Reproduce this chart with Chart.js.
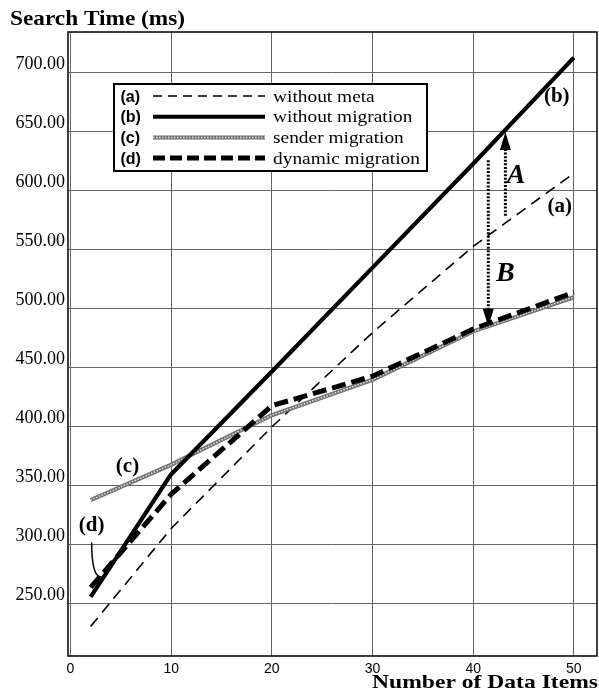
<!DOCTYPE html>
<html>
<head>
<meta charset="utf-8">
<script src="https://cdn.jsdelivr.net/npm/chart.js@4.4.1/dist/chart.umd.min.js"></script>
<style>
html, body { margin: 0; padding: 0; background: #fff; }
#wrap { width: 599px; height: 695px; }
</style>
</head>
<body>
<div id="wrap"><canvas id="grafico" width="599" height="695"></canvas></div>
<script>
// valores (aprox.)
const numItens = [2, 10, 20, 30, 40, 50];
const semMeta = [231, 314, 400, 480, 553, 615];            // (a)
const semMigracao = [256, 360, 447, 535, 623, 713];        // (b)
const migracaoRemetente = [338, 368, 410, 440, 481, 510];  // (c)
const migracaoDinamica = [264, 343, 418, 443, 483, 514];   // (d)

const ticksX = [0, 10, 20, 30, 40, 50];
const ticksY = [250, 300, 350, 400, 450, 500, 550, 600, 650, 700];

const legendaLetras = ['(a)', '(b)', '(c)', '(d)'];
const legendaTextos = ['without meta', 'without migration', 'sender migration', 'dynamic migration'];

const SERIF = '"Liberation Serif", "Times New Roman", serif';
const SANS = '"Liberation Sans", Arial, sans-serif';

function pontos(ys) {
    return numItens.map((x, i) => ({ x: x, y: ys[i] }));
}

// texto esticado na horizontal (o scan original é mais largo que alto)
function textoEsticado(ctx, txt, x, y, fonte, sx, alinhar) {
    ctx.save();
    ctx.font = fonte;
    ctx.fillStyle = '#000';
    ctx.textBaseline = 'alphabetic';
    ctx.textAlign = alinhar || 'left';
    ctx.translate(x, y);
    ctx.scale(sx, 1);
    ctx.fillText(txt, 0, 0);
    ctx.restore();
}

function textoLargura(ctx, txt, x, y, fonte, largura, alinhar) {
    ctx.save();
    ctx.font = fonte;
    const w = ctx.measureText(txt).width;
    ctx.restore();
    textoEsticado(ctx, txt, x, y, fonte, largura / w, alinhar);
}

function amostra(ctx, tipo, x1, x2, y) {
    ctx.save();
    ctx.strokeStyle = '#000';
    ctx.lineCap = 'butt';
    if (tipo === 0) { ctx.lineWidth = 1.6; ctx.setLineDash([9, 6]); }
    if (tipo === 1) { ctx.lineWidth = 4; }
    if (tipo === 2) { ctx.lineWidth = 4; ctx.strokeStyle = '#707070'; }
    if (tipo === 3) { ctx.lineWidth = 5; ctx.setLineDash([12, 5]); }
    ctx.beginPath(); ctx.moveTo(x1, y); ctx.lineTo(x2, y); ctx.stroke();
    if (tipo === 2) {
        ctx.strokeStyle = '#e4e4e4'; ctx.lineWidth = 1.5; ctx.setLineDash([1.5, 1.5]);
        ctx.beginPath(); ctx.moveTo(x1, y); ctx.lineTo(x2, y); ctx.stroke();
    }
    ctx.restore();
}

function seta(ctx, px, yIni, yFim) {
    const dir = yFim > yIni ? 1 : -1;
    const comp = 18, larg = 5.5;
    ctx.save();
    ctx.strokeStyle = '#000';
    ctx.lineWidth = 3;
    ctx.setLineDash([2, 1.6]);
    ctx.beginPath();
    ctx.moveTo(px, yIni);
    ctx.lineTo(px, yFim - dir * comp);
    ctx.stroke();
    ctx.setLineDash([]);
    ctx.fillStyle = '#000';
    ctx.beginPath();
    ctx.moveTo(px, yFim);
    ctx.lineTo(px - larg, yFim - dir * comp);
    ctx.lineTo(px + larg, yFim - dir * comp);
    ctx.closePath();
    ctx.fill();
    ctx.restore();
}

const extras = {
    id: 'extras',
    beforeDraw(chart) {
        const ctx = chart.ctx;
        ctx.save();
        ctx.fillStyle = '#fff';
        ctx.fillRect(0, 0, chart.width, chart.height);
        ctx.restore();
    },
    afterDraw(chart) {
        const { ctx, chartArea: a, scales: { x, y } } = chart;

        // moldura
        ctx.save();
        ctx.strokeStyle = '#000';
        ctx.lineWidth = 1.5;
        ctx.strokeRect(a.left, a.top, a.right - a.left, a.bottom - a.top);
        ctx.restore();

        // legenda
        const bx = 114, by = 84, bw = 313, bh = 87;
        ctx.save();
        ctx.fillStyle = '#fff';
        ctx.fillRect(bx, by, bw, bh);
        ctx.strokeStyle = '#000';
        ctx.lineWidth = 2;
        ctx.strokeRect(bx, by, bw, bh);
        ctx.restore();
        legendaLetras.forEach((letra, i) => {
            const ly = 97 + i * 20.7;
            textoEsticado(ctx, letra, 120.5, ly + 4.5, 'bold 16px ' + SANS, 1, 'left');
            amostra(ctx, i, 153, 265, ly - 1);
            textoEsticado(ctx, legendaTextos[i], 273, ly + 4.5, '17px ' + SERIF, 1.14, 'left');
        });

        // rótulos das curvas
        const rot = [
            ['(b)', 48.3, 680.5], ['(a)', 48.6, 587], ['(c)', 5.66, 367], ['(d)', 2.09, 317]
        ];
        rot.forEach(r => {
            textoEsticado(ctx, r[0], x.getPixelForValue(r[1]), y.getPixelForValue(r[2]) + 6,
                'bold 20px ' + SERIF, 1.05, 'center');
        });

        // ponteiro do (d)
        ctx.save();
        ctx.strokeStyle = '#000';
        ctx.lineWidth = 1.5;
        ctx.beginPath();
        ctx.moveTo(x.getPixelForValue(2.1), y.getPixelForValue(302));
        ctx.quadraticCurveTo(x.getPixelForValue(2.1), y.getPixelForValue(272),
            x.getPixelForValue(3.1), y.getPixelForValue(273));
        ctx.stroke();
        ctx.restore();

        // setas A e B
        seta(ctx, x.getPixelForValue(43.2), y.getPixelForValue(579), y.getPixelForValue(650));
        seta(ctx, x.getPixelForValue(41.5), y.getPixelForValue(626), y.getPixelForValue(485));
        textoEsticado(ctx, 'A', x.getPixelForValue(44.26), y.getPixelForValue(615) + 10,
            'italic bold 28px ' + SERIF, 1, 'center');
        textoEsticado(ctx, 'B', x.getPixelForValue(43.2), y.getPixelForValue(532) + 10,
            'italic bold 28px ' + SERIF, 1, 'center');

        // títulos
        textoLargura(ctx, 'Search Time (ms)', 10, 25, 'bold 20px ' + SERIF, 175, 'left');
        textoLargura(ctx, 'Number of Data Items', 598, 688, 'bold 19px ' + SERIF, 226, 'right');
    }
};

const ctx = document.getElementById('grafico').getContext('2d');

new Chart(ctx, {
    type: 'line',
    data: {
        datasets: [
            { label: 'without migration', data: pontos(semMigracao), borderColor: '#000', borderWidth: 4.2 },
            { label: 'dynamic migration', data: pontos(migracaoDinamica), borderColor: '#000', borderWidth: 5, borderDash: [14, 6] },
            { label: 'sender migration (pontos)', data: pontos(migracaoRemetente), borderColor: '#e4e4e4', borderWidth: 1.5, borderDash: [1.5, 1.5] },
            { label: 'sender migration', data: pontos(migracaoRemetente), borderColor: '#707070', borderWidth: 4.2 },
            { label: 'without meta', data: pontos(semMeta), borderColor: '#000', borderWidth: 1.6, borderDash: [11, 7] }
        ]
    },
    options: {
        responsive: false,
        animation: false,
        devicePixelRatio: 1,
        layout: { padding: { left: 0, top: 32, right: 2, bottom: 0 } },
        elements: {
            point: { radius: 0 },
            line: { tension: 0, fill: false, borderCapStyle: 'butt', borderJoinStyle: 'round' }
        },
        plugins: {
            legend: { display: false },
            tooltip: { enabled: false },
            title: { display: false }
        },
        scales: {
            x: {
                type: 'linear',
                min: -0.25,
                max: 52.3,
                afterFit: s => { s.height = 39; },
                afterBuildTicks: s => { s.ticks = ticksX.map(v => ({ value: v })); },
                grid: { color: '#666', lineWidth: 1, drawTicks: false },
                border: { display: false },
                ticks: {
                    padding: 5,
                    color: '#000',
                    font: { family: SANS, size: 14 },
                    maxRotation: 0,
                    callback: v => String(v)
                }
            },
            y: {
                type: 'linear',
                min: 205.9,
                max: 734.7,
                afterFit: s => { s.width = 68; },
                afterBuildTicks: s => { s.ticks = ticksY.map(v => ({ value: v })); },
                grid: { color: '#666', lineWidth: 1, drawTicks: false },
                border: { display: false },
                ticks: {
                    padding: 3,
                    labelOffset: -9,
                    color: '#000',
                    font: { family: SERIF, size: 18 },
                    callback: v => Number(v).toFixed(2)
                }
            }
        }
    },
    plugins: [extras]
});
</script>
</body>
</html>
